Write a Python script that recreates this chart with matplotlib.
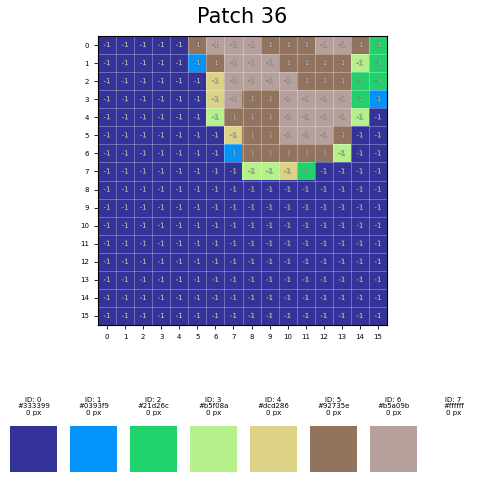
import numpy as np
import matplotlib
matplotlib.use("Agg")
import matplotlib.pyplot as plt
import matplotlib.patheffects as pe
from matplotlib.colors import ListedColormap

# palette ids / colours / pixel counts shown under the patch
palette_ids = [0, 1, 2, 3, 4, 5, 6, 7]
palette_hex = ['#333399', '#0393f9', '#21d26c', '#b5f08a', '#dcd286', '#92735e', '#b5a09b', '#ffffff']
palette_px = [0, 0, 0, 0, 0, 0, 0, 0]

# cluster id of every cell in the 16x16 patch
patch_ids = [
    [0, 0, 0, 0, 0, 5, 6, 6, 6, 5, 5, 5, 6, 6, 5, 2],
    [0, 0, 0, 0, 0, 1, 5, 6, 6, 6, 5, 5, 5, 5, 3, 2],
    [0, 0, 0, 0, 0, 0, 4, 6, 6, 6, 6, 5, 5, 5, 2, 2],
    [0, 0, 0, 0, 0, 0, 4, 6, 5, 5, 6, 6, 6, 6, 2, 1],
    [0, 0, 0, 0, 0, 0, 3, 5, 5, 5, 6, 6, 6, 6, 3, 0],
    [0, 0, 0, 0, 0, 0, 0, 4, 5, 5, 6, 6, 6, 5, 0, 0],
    [0, 0, 0, 0, 0, 0, 0, 1, 5, 5, 5, 5, 5, 3, 0, 0],
    [0, 0, 0, 0, 0, 0, 0, 0, 3, 3, 4, 2, 0, 0, 0, 0],
    [0] * 16,
    [0] * 16,
    [0] * 16,
    [0] * 16,
    [0] * 16,
    [0] * 16,
    [0] * 16,
    [0] * 16,
]
# label printed in each cell
cell_labels = [[-1] * 16 for _ in range(16)]

ids = np.array(patch_ids)
n = ids.shape[0]

fig = plt.figure(figsize=(4.84, 4.83), dpi=100)
fig.suptitle('Patch 36', fontsize=15, y=0.985)

ax = fig.add_axes([98 / 484, 1 - 325 / 483, 289 / 484, 289 / 483])
cmap = ListedColormap(palette_hex)
ax.imshow(ids, cmap=cmap, vmin=-0.5, vmax=len(palette_hex) - 0.5, interpolation='nearest')
outline = [pe.withStroke(linewidth=0.5, foreground='#333333')]
for r in range(n):
    for c in range(n):
        ax.text(c, r, str(cell_labels[r][c]), ha='center', va='center',
                fontsize=5, color='white', alpha=0.7, path_effects=outline)
ax.set_xticks(range(n))
ax.set_yticks(range(n))
ax.tick_params(labelsize=5, length=3, width=0.6)
ax.set_xticks(np.arange(-0.5, n, 1), minor=True)
ax.set_yticks(np.arange(-0.5, n, 1), minor=True)
ax.grid(which='minor', color='white', alpha=0.35, linewidth=0.6)
ax.tick_params(which='minor', length=0)

for i, (pid, col, px) in enumerate(zip(palette_ids, palette_hex, palette_px)):
    sax = fig.add_axes([(10 + 60 * i) / 484, 11 / 483, 47 / 484, 46 / 483])
    sax.imshow([[i]], cmap=cmap, vmin=-0.5, vmax=len(palette_hex) - 0.5, aspect='auto')
    sax.set_title(f'ID: {pid}\n{col}\n{px} px', fontsize=5, pad=8, linespacing=1.1)
    sax.axis('off')

fig.savefig('out.png', dpi=100)
